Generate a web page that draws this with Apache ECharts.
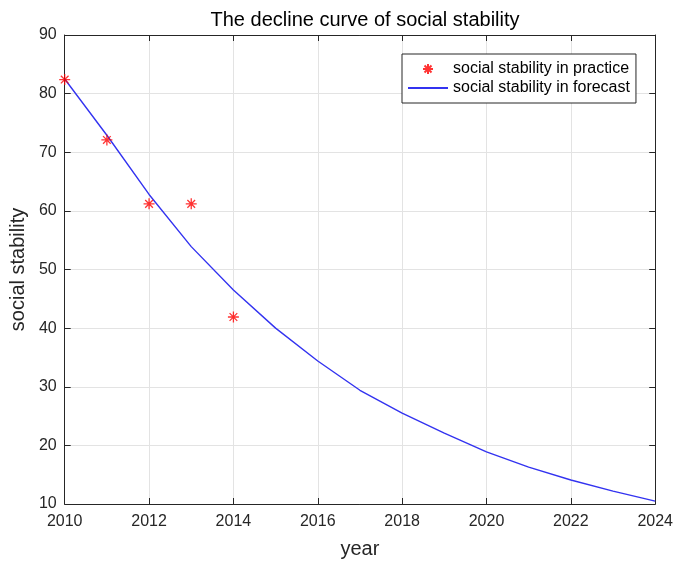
<!DOCTYPE html>
<html>
<head>
<meta charset="utf-8">
<script src="https://cdn.jsdelivr.net/npm/echarts@6/dist/echarts.min.js"></script>
<style>
  html, body { margin: 0; padding: 0; background: #fff; }
  #chart { width: 676px; height: 565px; }
</style>
</head>
<body>
<div id="chart"></div>
<script>
// Observed social stability by year
const practiceYears = [2010, 2011, 2012, 2013, 2014];
const practiceValues = [82.4, 72.1, 61.2, 61.2, 41.9];

// Forecast curve, one value per year
const forecastYears = [2010, 2011, 2012, 2013, 2014, 2015, 2016, 2017, 2018, 2019, 2020, 2021, 2022, 2023, 2024];
const forecastValues = [82.5, 72.9, 62.8, 53.9, 46.5, 40.0, 34.4, 29.4, 25.5, 22.1, 18.9, 16.3, 14.1, 12.2, 10.5];

const titleText = 'The decline curve of social stability';
const practiceName = 'social stability in practice';
const forecastName = 'social stability in forecast';
const xName = 'year';
const yName = 'social stability';

// asterisk marker drawn as strokes
const starPath = 'path://M5 0 L5 10 M0 5 L10 5 M1.5 1.5 L8.5 8.5 M1.5 8.5 L8.5 1.5';

const FONT = 'Liberation Sans, Arial, sans-serif';
const INK = '#262626';

const chart = echarts.init(document.getElementById('chart'), null, { renderer: 'canvas' });

const baseX = { type: 'value', min: 2010, max: 2024, interval: 2 };
const baseY = { type: 'value', min: 10, max: 90, interval: 10 };

chart.setOption({
  animation: false,
  backgroundColor: '#ffffff',
  title: {
    text: titleText,
    left: 360, top: 5, textAlign: 'center',
    textStyle: { fontFamily: FONT, fontSize: 20, fontWeight: 'normal', color: '#000' }
  },
  grid: { left: 64, top: 35, right: 20, bottom: 61, containLabel: false },
  legend: {
    orient: 'vertical',
    left: 402, top: 54,
    padding: [7, 6, 7, 5],
    itemGap: 3,
    itemWidth: 40, itemHeight: 10,
    backgroundColor: '#fff',
    borderColor: INK, borderWidth: 1,
    textStyle: { fontFamily: FONT, fontSize: 16, color: '#000' },
    data: [
      { name: practiceName, icon: starPath },
      { name: forecastName, itemStyle: { color: 'rgba(0,0,0,0)', borderColor: 'rgba(0,0,0,0)', borderWidth: 0 } }
    ]
  },
  xAxis: [
    Object.assign({}, baseX, {
      position: 'bottom',
      name: xName, nameLocation: 'middle', nameGap: 35,
      nameTextStyle: { fontFamily: FONT, fontSize: 20, color: INK },
      axisLine: { show: true, onZero: false, lineStyle: { color: INK, width: 1 } },
      axisTick: { show: true, inside: true, length: 6, lineStyle: { color: INK } },
      axisLabel: { fontFamily: FONT, fontSize: 16, color: INK, margin: 10, formatter: v => String(v) },
      splitLine: { show: true, lineStyle: { color: '#e3e3e3', width: 1 } }
    }),
    Object.assign({}, baseX, {
      position: 'top',
      axisLine: { show: true, onZero: false, lineStyle: { color: INK, width: 1 } },
      axisTick: { show: true, inside: true, length: 6, lineStyle: { color: INK } },
      axisLabel: { show: false },
      splitLine: { show: false }
    })
  ],
  yAxis: [
    Object.assign({}, baseY, {
      position: 'left',
      name: yName, nameLocation: 'middle', nameGap: 34, nameRotate: 90,
      nameTextStyle: { fontFamily: FONT, fontSize: 20, color: INK },
      axisLine: { show: true, onZero: false, lineStyle: { color: INK, width: 1 } },
      axisTick: { show: true, inside: true, length: 6, lineStyle: { color: INK } },
      axisLabel: { fontFamily: FONT, fontSize: 16, color: INK, margin: 8 },
      splitLine: { show: true, lineStyle: { color: '#e3e3e3', width: 1 } }
    }),
    Object.assign({}, baseY, {
      position: 'right',
      axisLine: { show: true, onZero: false, lineStyle: { color: INK, width: 1 } },
      axisTick: { show: true, inside: true, length: 6, lineStyle: { color: INK } },
      axisLabel: { show: false },
      splitLine: { show: false }
    })
  ],
  series: [
    {
      name: forecastName,
      type: 'line',
      xAxisIndex: 0, yAxisIndex: 0,
      data: forecastYears.map((y, i) => [y, forecastValues[i]]),
      showSymbol: false, symbol: 'none',
      lineStyle: { color: '#3333f0', width: 1.4 },
      itemStyle: { color: '#3333f0' },
      z: 2
    },
    {
      name: practiceName,
      type: 'scatter',
      xAxisIndex: 0, yAxisIndex: 0,
      data: practiceYears.map((y, i) => [y, practiceValues[i]]),
      symbol: starPath, symbolSize: 11,
      itemStyle: { color: 'none', borderColor: '#ff0000', borderWidth: 1.3 },
      z: 3
    }
  ]
});
</script>
</body>
</html>
